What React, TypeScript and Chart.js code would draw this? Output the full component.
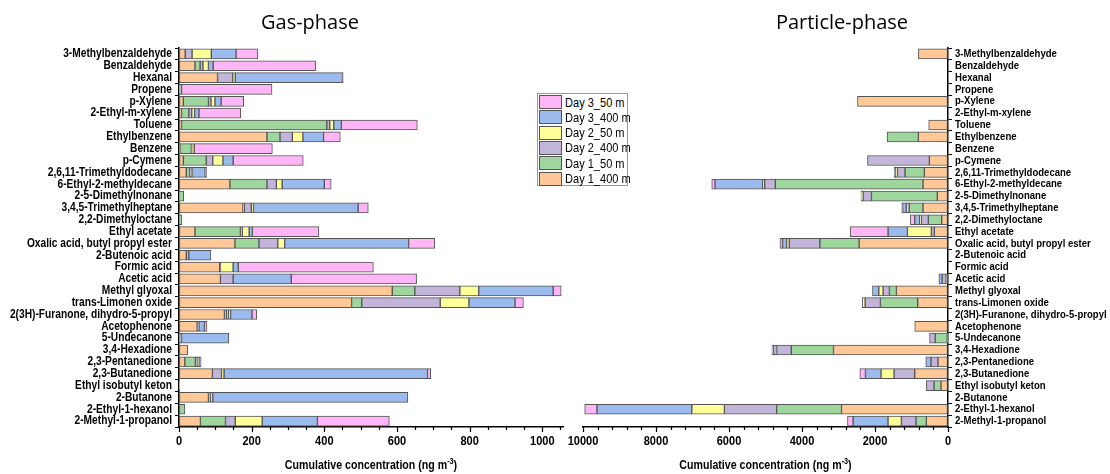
import React, { useEffect, useRef } from "react";
import { Chart, registerables } from "chart.js";

Chart.register(...registerables);

const categories = [
  "3-Methylbenzaldehyde", "Benzaldehyde", "Hexanal", "Propene", "p-Xylene", "2-Ethyl-m-xylene",
  "Toluene", "Ethylbenzene", "Benzene", "p-Cymene", "2,6,11-Trimethyldodecane", "6-Ethyl-2-methyldecane",
  "2-5-Dimethylnonane", "3,4,5-Trimethylheptane", "2,2-Dimethyloctane", "Ethyl acetate",
  "Oxalic acid, butyl propyl ester", "2-Butenoic acid", "Formic acid", "Acetic acid", "Methyl glyoxal",
  "trans-Limonen oxide", "2(3H)-Furanone, dihydro-5-propyl", "Acetophenone", "5-Undecanone",
  "3,4-Hexadione", "2,3-Pentanedione", "2,3-Butanedione", "Ethyl isobutyl keton", "2-Butanone",
  "2-Ethyl-1-hexanol", "2-Methyl-1-propanol",
];

const seriesNames = ["Day 1_400 m", "Day 1_50 m", "Day 2_400 m", "Day 2_50 m", "Day 3_400 m", "Day 3_50 m"];
const seriesColors = ["#FFC896", "#9ED69E", "#C3B4D9", "#FFFF99", "#9BBBEE", "#FFB6F6"];

// Gas-phase (ng m-3)
const gasDay1_400 = [17, 44, 106, 2, 12, 7, 7, 242, 4, 12, 20, 140, 1, 176, 1, 44, 154, 20, 112, 114, 587, 475, 125, 50, 3, 24, 16, 92, 2, 81, 0, 59];
const gasDay1_50 = [0, 14, 0, 5, 69, 20, 400, 36, 30, 63, 9, 102, 12, 4, 7, 125, 66, 0, 0, 0, 62, 28, 5, 0, 0, 0, 29, 0, 0, 0, 16, 69];
const gasDay2_400 = [19, 8, 42, 0, 7, 8, 8, 34, 1, 18, 5, 26, 0, 19, 0, 5, 52, 7, 2, 35, 124, 216, 7, 5, 4, 0, 5, 25, 0, 6, 0, 27];
const gasDay2_50 = [53, 15, 7, 0, 11, 8, 11, 29, 7, 28, 3, 16, 0, 6, 0, 19, 19, 0, 35, 0, 52, 79, 5, 0, 0, 0, 5, 7, 0, 6, 0, 74];
const gasDay3_400 = [68, 13, 295, 0, 17, 12, 21, 57, 0, 28, 35, 116, 0, 288, 0, 9, 341, 61, 14, 160, 205, 127, 59, 15, 130, 0, 6, 560, 0, 537, 0, 152];
const gasDay3_50 = [60, 282, 2, 249, 62, 115, 209, 46, 215, 193, 4, 19, 0, 28, 0, 183, 72, 0, 372, 345, 22, 23, 13, 7, 0, 0, 0, 9, 0, 0, 0, 198];

// Particle-phase (ng m-3)
const partDay1_400 = [811, 0, 0, 0, 2480, 0, 529, 811, 0, 510, 647, 684, 292, 684, 173, 374, 2434, 0, 0, 40, 1413, 830, 0, 912, 20, 3136, 273, 912, 191, 0, 2917, 593];
const partDay1_50 = [0, 0, 0, 0, 0, 0, 0, 857, 0, 0, 529, 4047, 1805, 374, 365, 0, 1076, 0, 0, 10, 191, 1021, 0, 0, 330, 1158, 0, 0, 191, 0, 1778, 283];
const partDay2_400 = [0, 0, 0, 0, 0, 0, 0, 0, 0, 1696, 210, 292, 228, 30, 191, 82, 839, 0, 0, 110, 173, 419, 0, 0, 155, 401, 191, 565, 210, 0, 1431, 401];
const partDay2_50 = [0, 0, 0, 0, 0, 0, 0, 0, 0, 0, 45, 55, 20, 55, 45, 656, 73, 0, 0, 0, 119, 80, 0, 0, 0, 40, 0, 356, 0, 0, 893, 365];
const partDay3_400 = [0, 0, 0, 0, 0, 0, 0, 0, 0, 0, 45, 1304, 0, 100, 137, 529, 109, 0, 0, 90, 173, 0, 0, 0, 0, 40, 146, 428, 0, 0, 2598, 957];
const partDay3_50 = [0, 0, 0, 0, 0, 0, 0, 0, 0, 0, 0, 91, 40, 24, 119, 1039, 73, 0, 0, 0, 0, 0, 0, 0, 0, 50, 0, 155, 0, 0, 337, 155];

const gasSeries = [gasDay1_400, gasDay1_50, gasDay2_400, gasDay2_50, gasDay3_400, gasDay3_50];
const partSeries = [partDay1_400, partDay1_50, partDay2_400, partDay2_50, partDay3_400, partDay3_50];

const SANS = "'Liberation Sans', Arial, sans-serif";
const AXIS_TITLE = "Cumulative concentration (ng m";

function drawNarrow(ctx: CanvasRenderingContext2D, text: string, x: number, y: number, sx: number) {
  ctx.save();
  ctx.translate(x, y);
  ctx.scale(sx, 1);
  ctx.fillText(text, 0, 0);
  ctx.restore();
}

function axisDecorPlugin(isLeft: boolean, major: number, minor: number) {
  return {
    id: "axisDecor",
    afterDraw(chart: any) {
      const ctx: CanvasRenderingContext2D = chart.ctx;
      const ca = chart.chartArea;
      const xs = chart.scales.x;
      const ys = chart.scales.y;
      ctx.save();
      // minor + major ticks on x
      ctx.strokeStyle = "#000";
      ctx.lineWidth = 1.2;
      const n = Math.floor(xs.max / minor + 1e-6);
      for (let i = 0; i <= n; i++) {
        const v = i * minor;
        const px = Math.round(xs.getPixelForValue(v)) + 0.5;
        const len = Math.abs(v % major) < 1e-6 ? 5 : 3;
        ctx.beginPath();
        ctx.moveTo(px, ca.bottom);
        ctx.lineTo(px, ca.bottom + len);
        ctx.stroke();
      }
      ctx.fillStyle = "#000";
      ctx.textBaseline = "middle";
      // category labels
      const ySize = isLeft ? 12 : 11.5;
      const ySx = isLeft ? 0.85 : 0.83;
      ctx.font = `bold ${ySize}px ${SANS}`;
      ctx.textAlign = isLeft ? "right" : "left";
      categories.forEach((lab, i) => {
        const y = ys.getPixelForValue(i);
        const x = isLeft ? ca.left - 7 : ca.right + 7;
        drawNarrow(ctx, lab, x, y, ySx);
      });
      // x tick labels
      ctx.font = `bold 13px ${SANS}`;
      ctx.textAlign = "center";
      const m = Math.floor(xs.max / major + 1e-6);
      for (let i = 0; i <= m; i++) {
        const v = i * major;
        drawNarrow(ctx, String(v), xs.getPixelForValue(v), ca.bottom + 14, 0.85);
      }
      // x axis title with superscript
      const cx = (ca.left + ca.right) / 2;
      const ty = 466;
      ctx.font = `bold 12.5px ${SANS}`;
      const w1 = ctx.measureText(AXIS_TITLE).width;
      const w3 = ctx.measureText(")").width;
      ctx.font = `bold 8.5px ${SANS}`;
      const w2 = ctx.measureText("-3").width;
      const total = w1 + w2 + w3;
      ctx.save();
      ctx.translate(cx, ty);
      ctx.scale(0.85, 1);
      ctx.textAlign = "left";
      ctx.font = `bold 12.5px ${SANS}`;
      ctx.fillText(AXIS_TITLE, -total / 2, 0);
      ctx.fillText(")", -total / 2 + w1 + w2, 0);
      ctx.font = `bold 8.5px ${SANS}`;
      ctx.fillText("-3", -total / 2 + w1, -4);
      ctx.restore();
      ctx.restore();
    },
  };
}

function makeDatasets(series: number[][]) {
  return series.map((arr, i) => ({
    label: seriesNames[i],
    data: arr.map((v) => (v > 0 ? v : null)),
    backgroundColor: seriesColors[i],
    borderColor: "#555",
    borderWidth: 1,
    borderSkipped: false,
    barThickness: 10,
  }));
}

function makeConfig(side: "left" | "right"): any {
  const isLeft = side === "left";
  const major = isLeft ? 200 : 2000;
  const minor = isLeft ? 50 : 400;
  return {
    type: "bar",
    data: { labels: categories, datasets: makeDatasets(isLeft ? gasSeries : partSeries) },
    options: {
      indexAxis: "y",
      responsive: false,
      animation: false,
      layout: { padding: isLeft ? { top: 48, right: 12, left: 0, bottom: 0 } : { top: 48, right: 0, left: 23, bottom: 0 } },
      plugins: { legend: { display: false }, tooltip: { enabled: false }, title: { display: false } },
      scales: {
        x: {
          type: "linear",
          stacked: true,
          reverse: !isLeft,
          min: 0,
          max: isLeft ? 1057 : 10000,
          afterFit(s: any) { s.height = 47; },
          ticks: { display: false, stepSize: minor, autoSkip: false, maxRotation: 0 },
          grid: { display: true, drawOnChartArea: false, tickLength: 5, tickColor: "rgba(0,0,0,0)" },
          border: { display: true, color: "#000", width: 1.5 },
          title: { display: false },
        },
        y: {
          type: "category",
          stacked: true,
          position: isLeft ? "left" : "right",
          afterFit(s: any) { s.width = isLeft ? 179 : 162; },
          ticks: { display: false, autoSkip: false },
          grid: { display: true, drawOnChartArea: false, tickLength: 4, tickColor: "#000", offset: true },
          border: { display: true, color: "#000", width: 1.5 },
        },
      },
    },
    plugins: [axisDecorPlugin(isLeft, major, minor)],
  };
}

const legendOrder = [5, 4, 3, 2, 1, 0];

export default function App() {
  const leftRef = useRef<HTMLCanvasElement>(null);
  const rightRef = useRef<HTMLCanvasElement>(null);

  useEffect(() => {
    const c1 = new Chart(leftRef.current as HTMLCanvasElement, makeConfig("left"));
    const c2 = new Chart(rightRef.current as HTMLCanvasElement, makeConfig("right"));
    return () => {
      c1.destroy();
      c2.destroy();
    };
  }, []);

  const titleStyle: React.CSSProperties = {
    position: "absolute",
    top: 8,
    fontFamily: "'Open Sans', 'Noto Sans', sans-serif",
    fontSize: 20,
    color: "#000",
    transform: "translateX(-50%)",
    whiteSpace: "nowrap",
    lineHeight: "28px",
  };

  return (
    <div style={{ position: "absolute", left: 0, top: 0, width: 1110, height: 474, overflow: "hidden", background: "#fff" }}>
      <canvas ref={leftRef} width={575} height={474} style={{ position: "absolute", left: 0, top: 0, width: 575, height: 474 }} />
      <canvas ref={rightRef} width={550} height={474} style={{ position: "absolute", left: 560, top: 0, width: 550, height: 474 }} />
      <div style={{ ...titleStyle, left: 310 }}>Gas-phase</div>
      <div style={{ ...titleStyle, left: 842 }}>Particle-phase</div>
      <div
        style={{
          position: "absolute",
          left: 537,
          top: 93,
          width: 91,
          height: 93,
          border: "1px solid #999",
          background: "#fff",
          boxSizing: "border-box",
        }}
      >
        {legendOrder.map((i, k) => (
          <div key={i} style={{ position: "absolute", left: 1, top: 1 + k * 15.33, height: 14, display: "flex", alignItems: "center" }}>
            <div style={{ width: 23, height: 14, boxSizing: "border-box", border: "1px solid #555", background: seriesColors[i] }} />
            <span style={{ marginLeft: 3, fontFamily: SANS, fontSize: 13, color: "#000", whiteSpace: "nowrap", display: "inline-block", transform: "scaleX(0.85)", transformOrigin: "left center" }}>{seriesNames[i]}</span>
          </div>
        ))}
      </div>
    </div>
  );
}
